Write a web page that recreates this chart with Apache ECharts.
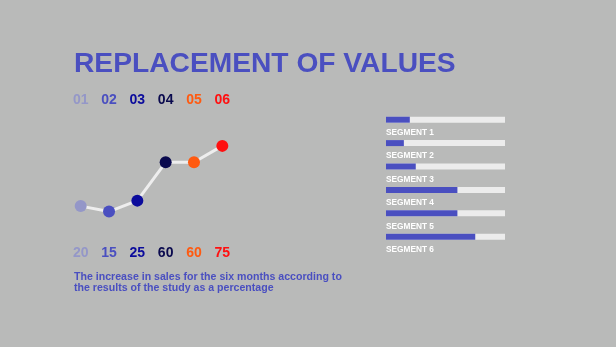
<!DOCTYPE html>
<html>
<head>
<meta charset="utf-8">
<script src="https://cdn.jsdelivr.net/npm/echarts@6/dist/echarts.min.js"></script>
<style>
html,body{margin:0;padding:0;background:#b9bab9;}
#c{width:616px;height:347px;}
</style>
</head>
<body>
<div id="c"></div>
<script>
var months = ['01', '02', '03', '04', '05', '06'];
var values = [20, 15, 25, 60, 60, 75];
var pointColors = ['#9497c8', '#4a4fc0', '#0b0b9c', '#0a0a4e', '#ff5a10', '#ff1010'];
var segments = ['SEGMENT 1', 'SEGMENT 2', 'SEGMENT 3', 'SEGMENT 4', 'SEGMENT 5', 'SEGMENT 6'];
var segmentValues = [20, 15, 25, 60, 60, 75];
var titleText = 'REPLACEMENT OF VALUES';
var noteLines = ['The increase in sales for the six months according to', 'the results of the study as a percentage'];

var FONT = '"Liberation Sans", Arial, sans-serif';
var chart = echarts.init(document.getElementById('c'), null, {renderer: 'canvas'});
chart.setOption({
  backgroundColor: '#b9bab9',
  animation: false,
  title: {
    text: titleText,
    left: 69, top: 45,
    textStyle: {color: '#4a4fc0', fontSize: 28.2, fontWeight: 'bold', fontFamily: FONT}
  },
  graphic: [{
    type: 'text', left: 74, top: 271.5,
    style: {
      text: noteLines.join('\n'),
      fill: '#4a4fc0', font: 'bold 10.6px ' + FONT, lineHeight: 10.6
    }
  }],
  grid: [
    {left: 80.7, top: 118.5, width: 141.6, height: 109.5},
    {left: 386, top: 108, width: 119, height: 140.4}
  ],
  xAxis: [
    {
      gridIndex: 0, type: 'category', data: months, boundaryGap: false, position: 'top',
      axisLine: {show: false}, axisTick: {show: false}, splitLine: {show: false},
      axisLabel: {
        margin: 11, fontSize: 14, fontWeight: 'bold', fontFamily: FONT,
        color: function (v, i) { return pointColors[i]; }
      }
    },
    {
      gridIndex: 0, type: 'category', data: values.map(String), boundaryGap: false, position: 'bottom',
      axisLine: {show: false}, axisTick: {show: false}, splitLine: {show: false},
      axisLabel: {
        margin: 18.5, fontSize: 14, fontWeight: 'bold', fontFamily: FONT,
        color: function (v, i) { return pointColors[i]; }
      }
    },
    {
      gridIndex: 1, type: 'value', min: 0, max: 100, show: false
    }
  ],
  yAxis: [
    {gridIndex: 0, type: 'value', min: 0, max: 100, show: false},
    {gridIndex: 1, type: 'category', data: segments, inverse: true, show: false}
  ],
  series: [
    {
      type: 'line', xAxisIndex: 0, yAxisIndex: 0, data: values,
      symbol: 'circle', symbolSize: 12,
      lineStyle: {color: '#eeeeee', width: 3},
      itemStyle: {color: function (p) { return pointColors[p.dataIndex]; }},
      z: 3
    },
    {
      type: 'bar', xAxisIndex: 2, yAxisIndex: 1,
      data: segmentValues.map(function () { return 100; }),
      barWidth: 6, barGap: '-100%', silent: true,
      itemStyle: {color: '#ececec'},
      label: {
        show: true, position: [0, 16], align: 'left', verticalAlign: 'middle',
        formatter: function (p) { return p.name; },
        color: '#ffffff', fontSize: 8.3, fontWeight: 'bold', fontFamily: FONT
      }
    },
    {
      type: 'bar', xAxisIndex: 2, yAxisIndex: 1, data: segmentValues,
      barWidth: 6, barGap: '-100%',
      itemStyle: {color: '#4a4fc0'}
    }
  ]
});
</script>
</body>
</html>
